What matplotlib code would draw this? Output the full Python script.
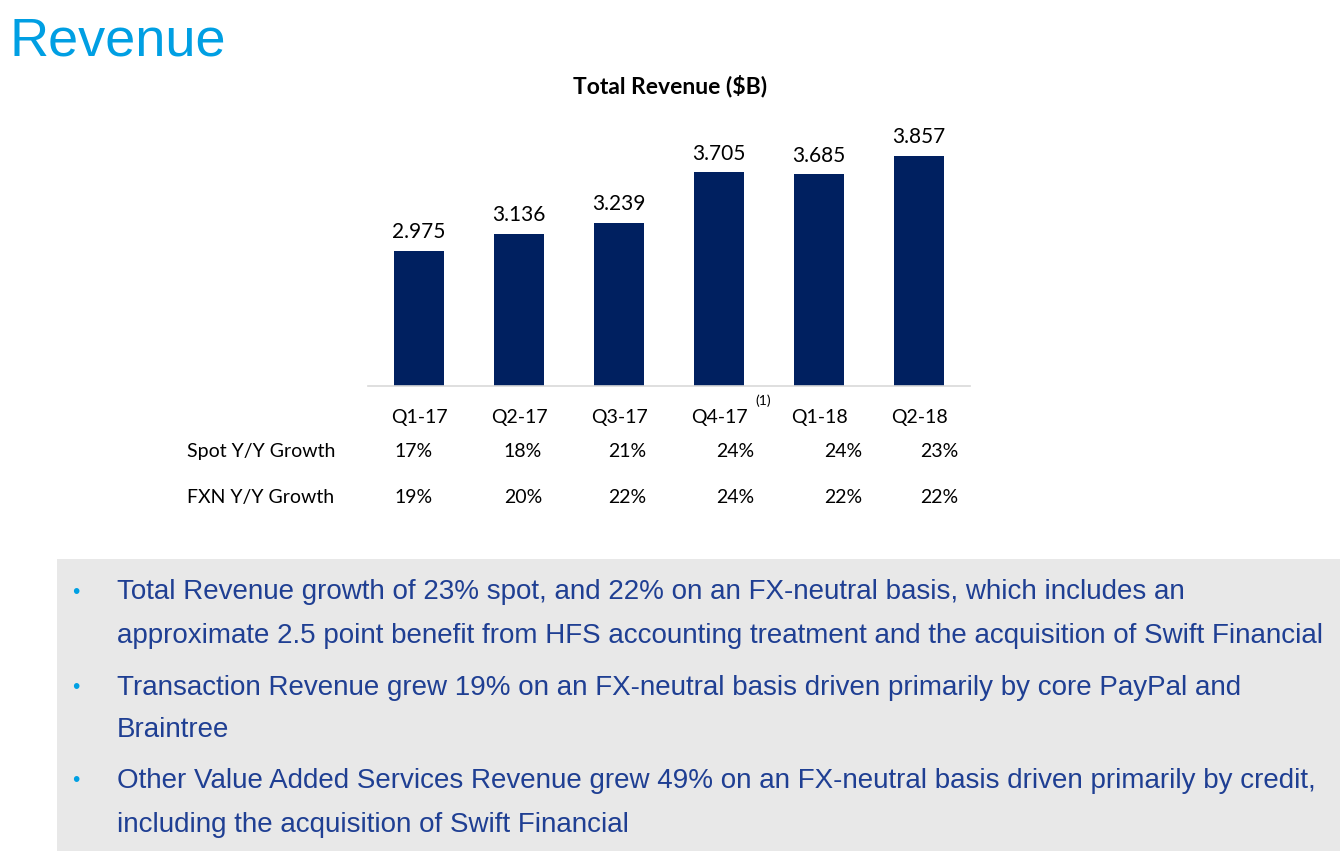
import matplotlib
matplotlib.use("Agg")
import matplotlib.pyplot as plt
from matplotlib.patches import Rectangle

categories = ["Q1-17", "Q2-17", "Q3-17", "Q4-17", "Q1-18", "Q2-18"]
revenue = [2.975, 3.136, 3.239, 3.705, 3.685, 3.857]
spot_growth = ["17%", "18%", "21%", "24%", "24%", "23%"]
fxn_growth = ["19%", "20%", "22%", "24%", "22%", "22%"]
row_labels = ["Spot Y/Y Growth", "FXN Y/Y Growth"]
bullets = [
    ["Total Revenue growth of 23% spot, and 22% on an FX-neutral basis, which includes an",
     "approximate 2.5 point benefit from HFS accounting treatment and the acquisition of Swift Financial"],
    ["Transaction Revenue grew 19% on an FX-neutral basis driven primarily by core PayPal and",
     "Braintree"],
    ["Other Value Added Services Revenue grew 49% on an FX-neutral basis driven primarily by credit,",
     "including the acquisition of Swift Financial"],
]

W, H = 1340, 854
fig = plt.figure(figsize=(W / 100, H / 100), dpi=100)
fig.patch.set_facecolor("white")

def fx(px):
    return px / W

def fy(py):
    return 1 - py / H

chart_font = ["Lato", "DejaVu Sans"]
body_font = ["Liberation Sans", "DejaVu Sans"]
navy = "#002060"

# Slide title
fig.text(fx(10), fy(56), "Revenue", fontsize=39, color="#009FE3",
         family=body_font, ha="left", va="baseline")

# Chart axes
ax_left, ax_right, ax_top, ax_bottom = 368, 970, 120, 387
ax = fig.add_axes([fx(ax_left), fy(ax_bottom), fx(ax_right - ax_left), (ax_bottom - ax_top) / H])
x = list(range(len(categories)))
bars = ax.bar(x, revenue, width=0.5, color=navy, zorder=2)
ax.set_xlim(-0.51, 5.51)
ax.set_ylim(1.722, 4.20)
for s in ["top", "right", "left"]:
    ax.spines[s].set_visible(False)
ax.spines["bottom"].set_color("#d9d9d9")
ax.spines["bottom"].set_linewidth(1.2)
ax.set_yticks([])
ax.set_xticks(x)
ax.set_xticklabels(categories, fontsize=14, family=chart_font, color="black")
ax.tick_params(axis="x", length=0, pad=16)
ax.patch.set_alpha(0)
for b, v in zip(bars, revenue):
    ax.annotate(f"{v:.3f}", (b.get_x() + b.get_width() / 2, v), xytext=(0, 7),
                textcoords="offset points", ha="center", va="bottom",
                fontsize=15, family=chart_font, color="black")
# footnote marker next to Q4-17
ax.annotate("(1)", (3, 1.722), xytext=(32, -10), textcoords="offset points",
            ha="center", va="center", fontsize=10, family=chart_font, color="black",
            annotation_clip=False)

fig.text(fx(670), fy(86), "Total Revenue ($B)", fontsize=16.5, fontweight="bold",
         family=chart_font, ha="center", va="center", color="black")

# Growth table
col_centers = [414, 523, 627, 735, 843, 939]
row_y = [452, 498]
for ry, lab, vals in zip(row_y, row_labels, [spot_growth, fxn_growth]):
    fig.text(fx(187), fy(ry), lab, fontsize=14, family=chart_font,
             ha="left", va="center", color="black")
    for cx, v in zip(col_centers, vals):
        fig.text(fx(cx), fy(ry), v, fontsize=14, family=chart_font,
                 ha="center", va="center", color="black")

# Gray commentary box
fig.patches.append(Rectangle((fx(57), fy(852)), fx(1340 - 57), (852 - 560) / H,
                             transform=fig.transFigure, facecolor="#E8E8E8",
                             edgecolor="none", zorder=0))
line_y = [[592, 636], [688, 730], [781, 825]]
text_color = "#1F3F93"
for lines, ys in zip(bullets, line_y):
    fig.text(fx(76), fy(ys[0]), "•", fontsize=15, color="#00A0E3",
             family=body_font, ha="center", va="center")
    for ln, yy in zip(lines, ys):
        fig.text(fx(117), fy(yy), ln, fontsize=20, color=text_color,
                 family=body_font, ha="left", va="center")

fig.savefig("out.png", dpi=100)
